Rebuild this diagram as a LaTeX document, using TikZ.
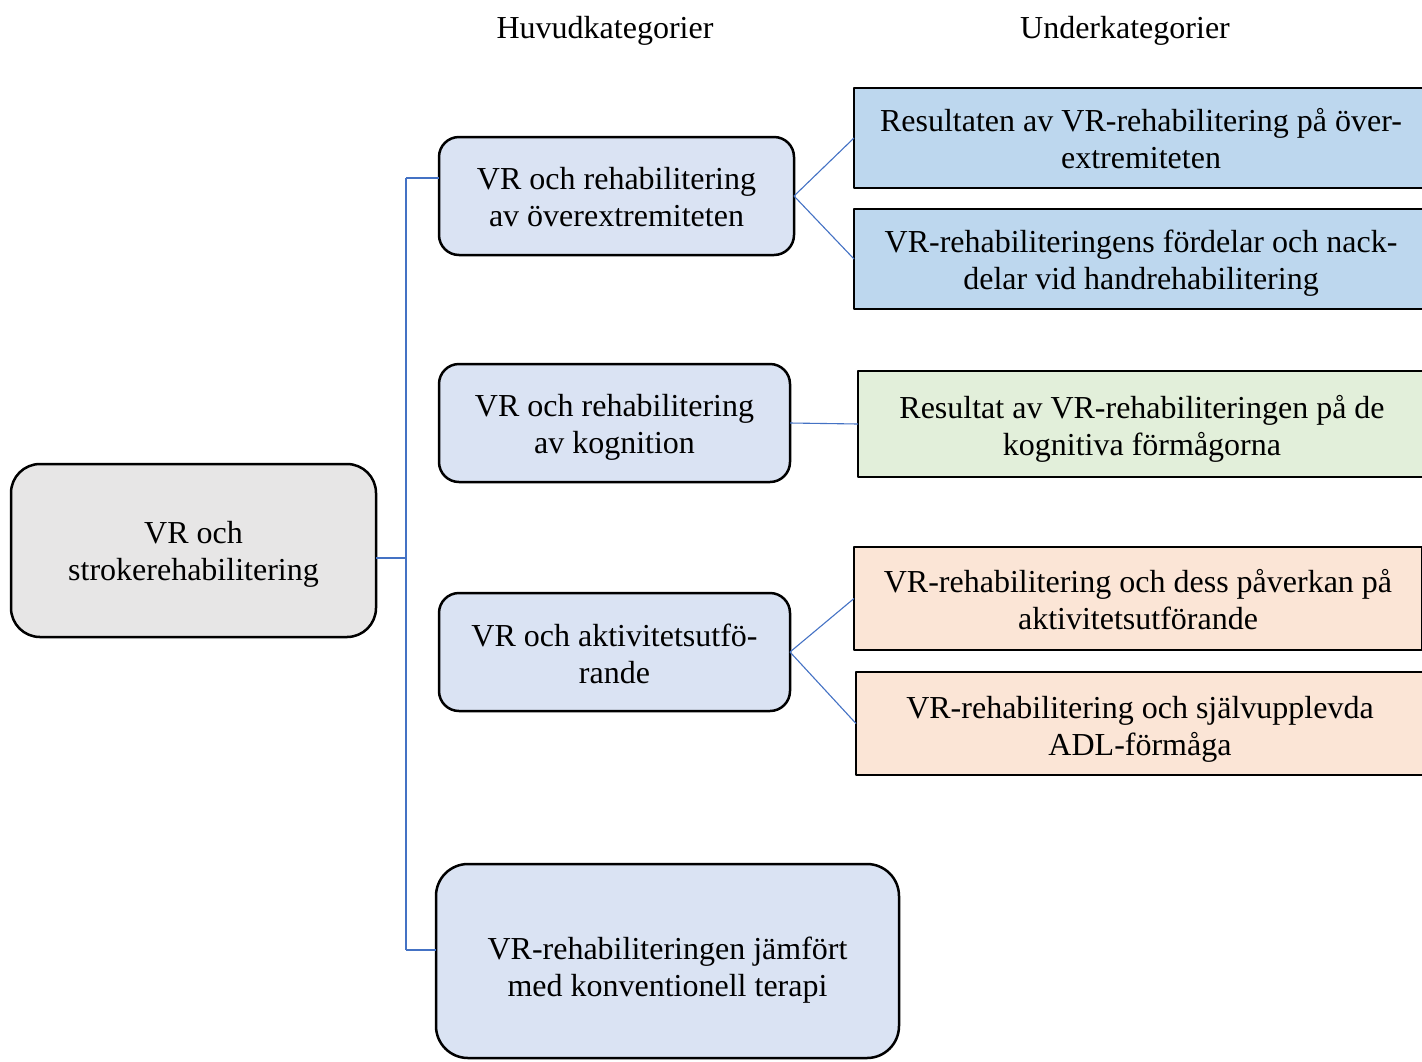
\documentclass[tikz,border=0pt]{standalone}
\usepackage{fontspec}
\setmainfont{Liberation Serif}
\begin{document}
\begin{tikzpicture}[x=1pt, y=-1pt, line join=round,
    txt/.style={font=\fontsize{32}{37}\selectfont, align=center, inner sep=0pt, outer sep=0pt},
    hovud/.style={txt, draw=black, line width=2.5pt, fill=cMain},
    under/.style={txt, draw=black, line width=2.5pt, minimum height=100pt},
    koppling/.style={draw=cLink, line width=1.1pt}]
          \definecolor{cRoot}{HTML}{E7E6E6}
          \definecolor{cMain}{HTML}{DAE3F3}
          \definecolor{cHand}{HTML}{BDD7EE}
          \definecolor{cKogn}{HTML}{E2EFDA}
          \definecolor{cAkt}{HTML}{FBE5D6}
          \definecolor{cLink}{HTML}{4472C4}

          \useasboundingbox (0,0) rectangle (1422,1061);
          \clip (0,0) rectangle (1422,1061);

          % rubriker
          \node[txt] (rubHuvud) at (605,31) {Huvudkategorier};
          \node[txt] (rubUnder) at (1125,31) {Underkategorier};

          % rot
          \node[txt, draw=black, line width=2.5pt, fill=cRoot, rounded corners=29pt,
                minimum width=365pt, minimum height=173pt] (rot) at (193.5,550.5)
                {\rule{0pt}{30pt}VR och\\strokerehabilitering};

          % huvudkategorier
          \node[hovud, rounded corners=20pt, minimum width=355pt, minimum height=118pt] (overex) at (616.5,196)
                {\rule{0pt}{24pt}VR och rehabilitering\\av överextremiteten};
          \node[hovud, rounded corners=20pt, minimum width=351pt, minimum height=118pt] (kogn) at (614.5,423)
                {\rule{0pt}{31pt}VR och rehabilitering\\av kognition};
          \node[hovud, rounded corners=20pt, minimum width=351pt, minimum height=118pt] (akt) at (614.5,652)
                {\rule{0pt}{27pt}VR och aktivitetsutfö-\\rande};
          \node[hovud, rounded corners=32pt, minimum width=463pt, minimum height=194pt] (konv) at (667.5,961)
                {\rule{0pt}{40pt}VR-rehabiliteringen jämfört\\med konventionell terapi};

          % underkategorier
          \node[under, fill=cHand, minimum width=574pt] (resOver) at (1141,138)
                {\rule{0pt}{24pt}Resultaten av VR-rehabilitering på över-\\extremiteten};
          \node[under, fill=cHand, minimum width=574pt] (fordelar) at (1141,259)
                {\rule{0pt}{31pt}VR-rehabiliteringens fördelar och nack-\\delar vid handrehabilitering};
          \node[under, fill=cKogn, minimum width=568pt, minimum height=106pt] (resKogn) at (1142,424)
                {\rule{0pt}{32pt}Resultat av VR-rehabiliteringen på de\\kognitiva förmågorna};
          \node[under, fill=cAkt, minimum width=568pt, minimum height=103pt] (paverkan) at (1138,598.5)
                {\rule{0pt}{26pt}VR-rehabilitering och dess påverkan på\\aktivitetsutförande};
          \node[under, fill=cAkt, minimum width=568pt, minimum height=103pt] (adl) at (1140,723.5)
                {\rule{0pt}{34pt}VR-rehabilitering och självupplevda\\ADL-förmåga};

          % stam
          \coordinate (stamMitt) at (406,558);
          \coordinate (stamTopp) at (406,178);
          \coordinate (stamBotten) at (406,950);

          \draw[koppling] (stamMitt -| rot.east) -- (stamMitt);
          \draw[koppling] (stamTopp) -- (stamBotten);
          \draw[koppling] (stamTopp) -- (stamTopp -| overex.west);
          \draw[koppling] (stamBotten) -- (stamBotten -| konv.west);

          \draw[koppling] (overex.east) -- (resOver.west);
          \draw[koppling] (overex.east) -- (fordelar.west);
          \draw[koppling] (kogn.east) -- (resKogn.west);
          \draw[koppling] (akt.east) -- (paverkan.west);
          \draw[koppling] (akt.east) -- (adl.west);
        \end{tikzpicture}
\end{document}
